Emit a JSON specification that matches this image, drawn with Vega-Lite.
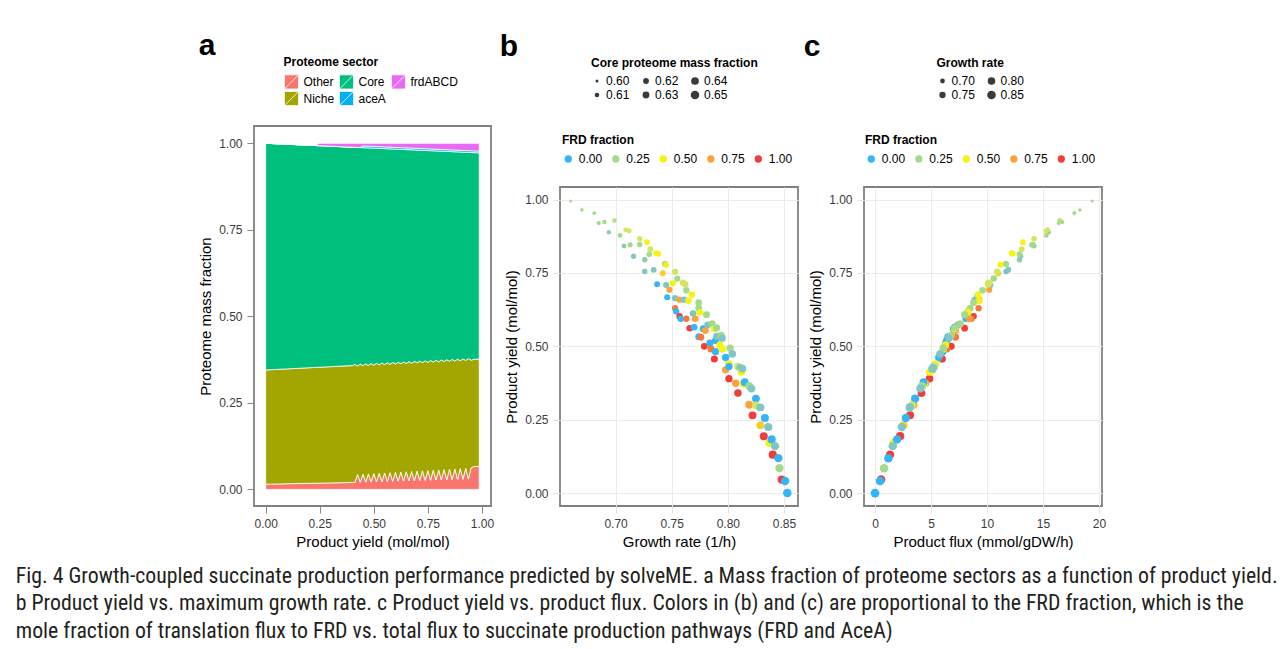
{
  "$schema": "https://vega.github.io/schema/vega-lite/v6.json",
  "padding": {"left": 15, "top": 30, "right": 0, "bottom": 0},
  "background": "white",
  "datasets": {
    "ord": [
      {"sector": "Other", "rank": 1},
      {"sector": "Niche", "rank": 2},
      {"sector": "Core", "rank": 3},
      {"sector": "aceA", "rank": 4},
      {"sector": "frdABCD", "rank": 5}
    ],
    "prot": [
      {"p": 0, "Other": 0.015, "Niche": 0.33, "Core": 0.655, "aceA": 0, "frdABCD": 0},
      {"p": 0.025, "Other": 0.0153, "Niche": 0.3305, "Core": 0.6535, "aceA": 0, "frdABCD": 0},
      {"p": 0.05, "Other": 0.0156, "Niche": 0.331, "Core": 0.652, "aceA": 0, "frdABCD": 0},
      {"p": 0.075, "Other": 0.0159, "Niche": 0.3315, "Core": 0.6505, "aceA": 0, "frdABCD": 0},
      {"p": 0.1, "Other": 0.0163, "Niche": 0.3319, "Core": 0.649, "aceA": 0, "frdABCD": 0},
      {"p": 0.125, "Other": 0.0166, "Niche": 0.3324, "Core": 0.6475, "aceA": 0, "frdABCD": 0},
      {"p": 0.15, "Other": 0.0169, "Niche": 0.3329, "Core": 0.646, "aceA": 0, "frdABCD": 0},
      {"p": 0.175, "Other": 0.0172, "Niche": 0.3334, "Core": 0.6445, "aceA": 0, "frdABCD": 0},
      {"p": 0.2, "Other": 0.0175, "Niche": 0.3339, "Core": 0.643, "aceA": 0, "frdABCD": 0},
      {"p": 0.225, "Other": 0.0178, "Niche": 0.3344, "Core": 0.6415, "aceA": 0, "frdABCD": 0},
      {"p": 0.25, "Other": 0.0181, "Niche": 0.3349, "Core": 0.64, "aceA": 0, "frdABCD": 0.007},
      {"p": 0.275, "Other": 0.0184, "Niche": 0.3354, "Core": 0.6385, "aceA": 0, "frdABCD": 0.0077},
      {"p": 0.3, "Other": 0.0188, "Niche": 0.3358, "Core": 0.637, "aceA": 0, "frdABCD": 0.0084},
      {"p": 0.325, "Other": 0.0191, "Niche": 0.3363, "Core": 0.6355, "aceA": 0, "frdABCD": 0.0091},
      {"p": 0.35, "Other": 0.0194, "Niche": 0.3368, "Core": 0.634, "aceA": 0, "frdABCD": 0.0098},
      {"p": 0.375, "Other": 0.0197, "Niche": 0.3373, "Core": 0.6325, "aceA": 0, "frdABCD": 0.0105},
      {"p": 0.4, "Other": 0.02, "Niche": 0.3378, "Core": 0.631, "aceA": 0, "frdABCD": 0.0112},
      {"p": 0.4125, "Other": 0.0202, "Niche": 0.341, "Core": 0.6273, "aceA": 0, "frdABCD": 0.0116},
      {"p": 0.425, "Other": 0.043, "Niche": 0.3136, "Core": 0.6315, "aceA": 0, "frdABCD": 0.0119},
      {"p": 0.4375, "Other": 0.0207, "Niche": 0.3413, "Core": 0.6258, "aceA": 0, "frdABCD": 0.0123},
      {"p": 0.45, "Other": 0.0439, "Niche": 0.3135, "Core": 0.63, "aceA": 0.005, "frdABCD": 0.0076},
      {"p": 0.4625, "Other": 0.0211, "Niche": 0.3417, "Core": 0.6243, "aceA": 0.005, "frdABCD": 0.008},
      {"p": 0.475, "Other": 0.0448, "Niche": 0.3134, "Core": 0.6285, "aceA": 0.005, "frdABCD": 0.0083},
      {"p": 0.4875, "Other": 0.0216, "Niche": 0.342, "Core": 0.6228, "aceA": 0.005, "frdABCD": 0.0087},
      {"p": 0.5, "Other": 0.0457, "Niche": 0.3133, "Core": 0.627, "aceA": 0.005, "frdABCD": 0.009},
      {"p": 0.5125, "Other": 0.0221, "Niche": 0.3423, "Core": 0.6213, "aceA": 0.005, "frdABCD": 0.0094},
      {"p": 0.525, "Other": 0.0466, "Niche": 0.3132, "Core": 0.6255, "aceA": 0.005, "frdABCD": 0.0097},
      {"p": 0.5375, "Other": 0.0225, "Niche": 0.3427, "Core": 0.6198, "aceA": 0.005, "frdABCD": 0.0101},
      {"p": 0.55, "Other": 0.0475, "Niche": 0.3131, "Core": 0.624, "aceA": 0.005, "frdABCD": 0.0104},
      {"p": 0.5625, "Other": 0.023, "Niche": 0.343, "Core": 0.6183, "aceA": 0.005, "frdABCD": 0.0108},
      {"p": 0.575, "Other": 0.0484, "Niche": 0.313, "Core": 0.6225, "aceA": 0.005, "frdABCD": 0.0111},
      {"p": 0.5875, "Other": 0.0234, "Niche": 0.3434, "Core": 0.6168, "aceA": 0.005, "frdABCD": 0.0115},
      {"p": 0.6, "Other": 0.0493, "Niche": 0.3129, "Core": 0.621, "aceA": 0.005, "frdABCD": 0.0118},
      {"p": 0.6125, "Other": 0.0239, "Niche": 0.3437, "Core": 0.6153, "aceA": 0.005, "frdABCD": 0.0122},
      {"p": 0.625, "Other": 0.0502, "Niche": 0.3128, "Core": 0.6195, "aceA": 0.005, "frdABCD": 0.0125},
      {"p": 0.6375, "Other": 0.0243, "Niche": 0.3441, "Core": 0.6138, "aceA": 0.005, "frdABCD": 0.0129},
      {"p": 0.65, "Other": 0.0511, "Niche": 0.3127, "Core": 0.618, "aceA": 0.005, "frdABCD": 0.0132},
      {"p": 0.6625, "Other": 0.0248, "Niche": 0.3444, "Core": 0.6123, "aceA": 0.005, "frdABCD": 0.0136},
      {"p": 0.675, "Other": 0.052, "Niche": 0.3126, "Core": 0.6165, "aceA": 0.005, "frdABCD": 0.0139},
      {"p": 0.6875, "Other": 0.0253, "Niche": 0.3447, "Core": 0.6108, "aceA": 0.005, "frdABCD": 0.0143},
      {"p": 0.7, "Other": 0.0529, "Niche": 0.3125, "Core": 0.615, "aceA": 0.005, "frdABCD": 0.0146},
      {"p": 0.7125, "Other": 0.0257, "Niche": 0.3451, "Core": 0.6093, "aceA": 0.005, "frdABCD": 0.015},
      {"p": 0.725, "Other": 0.0538, "Niche": 0.3124, "Core": 0.6135, "aceA": 0.005, "frdABCD": 0.0153},
      {"p": 0.7375, "Other": 0.0262, "Niche": 0.3454, "Core": 0.6078, "aceA": 0.005, "frdABCD": 0.0157},
      {"p": 0.75, "Other": 0.0547, "Niche": 0.3123, "Core": 0.612, "aceA": 0.005, "frdABCD": 0.016},
      {"p": 0.7625, "Other": 0.0266, "Niche": 0.3458, "Core": 0.6063, "aceA": 0.005, "frdABCD": 0.0164},
      {"p": 0.775, "Other": 0.0556, "Niche": 0.3122, "Core": 0.6105, "aceA": 0.005, "frdABCD": 0.0167},
      {"p": 0.7875, "Other": 0.0271, "Niche": 0.3461, "Core": 0.6048, "aceA": 0.005, "frdABCD": 0.0171},
      {"p": 0.8, "Other": 0.0565, "Niche": 0.3121, "Core": 0.609, "aceA": 0.005, "frdABCD": 0.0174},
      {"p": 0.8125, "Other": 0.0275, "Niche": 0.3465, "Core": 0.6033, "aceA": 0.005, "frdABCD": 0.0178},
      {"p": 0.825, "Other": 0.0574, "Niche": 0.312, "Core": 0.6075, "aceA": 0.005, "frdABCD": 0.0181},
      {"p": 0.8375, "Other": 0.028, "Niche": 0.3468, "Core": 0.6018, "aceA": 0.005, "frdABCD": 0.0185},
      {"p": 0.85, "Other": 0.0583, "Niche": 0.3119, "Core": 0.606, "aceA": 0.005, "frdABCD": 0.0188},
      {"p": 0.8625, "Other": 0.0285, "Niche": 0.3471, "Core": 0.6003, "aceA": 0.005, "frdABCD": 0.0192},
      {"p": 0.875, "Other": 0.0592, "Niche": 0.3118, "Core": 0.6045, "aceA": 0.005, "frdABCD": 0.0195},
      {"p": 0.8875, "Other": 0.0289, "Niche": 0.3475, "Core": 0.5988, "aceA": 0.005, "frdABCD": 0.0199},
      {"p": 0.9, "Other": 0.0601, "Niche": 0.3117, "Core": 0.603, "aceA": 0.005, "frdABCD": 0.0202},
      {"p": 0.9125, "Other": 0.0294, "Niche": 0.3478, "Core": 0.5973, "aceA": 0.005, "frdABCD": 0.0206},
      {"p": 0.925, "Other": 0.061, "Niche": 0.3116, "Core": 0.6015, "aceA": 0.005, "frdABCD": 0.0209},
      {"p": 0.9375, "Other": 0.0298, "Niche": 0.3482, "Core": 0.5958, "aceA": 0.005, "frdABCD": 0.0213},
      {"p": 0.95, "Other": 0.0619, "Niche": 0.3115, "Core": 0.6, "aceA": 0.005, "frdABCD": 0.0216},
      {"p": 0.9625, "Other": 0.066, "Niche": 0.3098, "Core": 0.5973, "aceA": 0.005, "frdABCD": 0.022},
      {"p": 0.975, "Other": 0.066, "Niche": 0.3102, "Core": 0.5965, "aceA": 0.005, "frdABCD": 0.0223},
      {"p": 0.9875, "Other": 0.066, "Niche": 0.3106, "Core": 0.5958, "aceA": 0.005, "frdABCD": 0.0227}
    ],
    "pts": [
      {"mu": 0.66, "yield": 0.995, "frd": 0.25, "core": 0.6, "flux": 19.4},
      {"mu": 0.67, "yield": 0.965, "frd": 0.25, "core": 0.603, "flux": 18.3},
      {"mu": 0.681, "yield": 0.954, "frd": 0.25, "core": 0.605, "flux": 17.8},
      {"mu": 0.685, "yield": 0.92, "frd": 0.25, "core": 0.607, "flux": 16.4},
      {"mu": 0.69, "yield": 0.924, "frd": 0.25, "core": 0.608, "flux": 16.7},
      {"mu": 0.694, "yield": 0.889, "frd": 0.17, "core": 0.609, "flux": 15.5},
      {"mu": 0.699, "yield": 0.929, "frd": 0.3, "core": 0.61, "flux": 16.5},
      {"mu": 0.704, "yield": 0.878, "frd": 0.25, "core": 0.611, "flux": 15.3},
      {"mu": 0.7075, "yield": 0.842, "frd": 0.17, "core": 0.612, "flux": 14.2},
      {"mu": 0.709, "yield": 0.897, "frd": 0.38, "core": 0.612, "flux": 15.4},
      {"mu": 0.712, "yield": 0.894, "frd": 0.38, "core": 0.613, "flux": 15.3},
      {"mu": 0.713, "yield": 0.846, "frd": 0.25, "core": 0.614, "flux": 14.0},
      {"mu": 0.716, "yield": 0.807, "frd": 0.12, "core": 0.615, "flux": 13.0},
      {"mu": 0.7215, "yield": 0.867, "frd": 0.38, "core": 0.616, "flux": 14.2},
      {"mu": 0.7215, "yield": 0.847, "frd": 0.25, "core": 0.616, "flux": 14.1},
      {"mu": 0.726, "yield": 0.755, "frd": 0.12, "core": 0.617, "flux": 11.7},
      {"mu": 0.728, "yield": 0.855, "frd": 0.5, "core": 0.618, "flux": 13.2},
      {"mu": 0.726, "yield": 0.795, "frd": 0.17, "core": 0.617, "flux": 12.9},
      {"mu": 0.73, "yield": 0.814, "frd": 0.25, "core": 0.618, "flux": 12.9},
      {"mu": 0.731, "yield": 0.831, "frd": 0.38, "core": 0.619, "flux": 13.1},
      {"mu": 0.734, "yield": 0.761, "frd": 0.12, "core": 0.619, "flux": 11.9},
      {"mu": 0.736, "yield": 0.817, "frd": 0.5, "core": 0.62, "flux": 12.2},
      {"mu": 0.737, "yield": 0.712, "frd": 0.0, "core": 0.62, "flux": 10.1},
      {"mu": 0.738, "yield": 0.816, "frd": 0.5, "core": 0.62, "flux": 12.3},
      {"mu": 0.742, "yield": 0.749, "frd": 0.62, "core": 0.621, "flux": 11.0},
      {"mu": 0.744, "yield": 0.781, "frd": 0.25, "core": 0.622, "flux": 11.7},
      {"mu": 0.745, "yield": 0.778, "frd": 0.5, "core": 0.622, "flux": 11.2},
      {"mu": 0.745, "yield": 0.709, "frd": 0.12, "core": 0.622, "flux": 10.3},
      {"mu": 0.746, "yield": 0.667, "frd": 0.0, "core": 0.622, "flux": 9.1},
      {"mu": 0.748, "yield": 0.693, "frd": 0.75, "core": 0.623, "flux": 10.2},
      {"mu": 0.751, "yield": 0.715, "frd": 0.5, "core": 0.623, "flux": 10.1},
      {"mu": 0.753, "yield": 0.754, "frd": 0.38, "core": 0.624, "flux": 10.9},
      {"mu": 0.753, "yield": 0.664, "frd": 0.12, "core": 0.624, "flux": 9.1},
      {"mu": 0.755, "yield": 0.731, "frd": 0.25, "core": 0.624, "flux": 10.6},
      {"mu": 0.757, "yield": 0.659, "frd": 0.75, "core": 0.625, "flux": 9.3},
      {"mu": 0.753, "yield": 0.63, "frd": 0.87, "core": 0.624, "flux": 9.25},
      {"mu": 0.754, "yield": 0.619, "frd": 0.0, "core": 0.624, "flux": 8.3},
      {"mu": 0.757, "yield": 0.603, "frd": 1.0, "core": 0.625, "flux": 8.8},
      {"mu": 0.758, "yield": 0.594, "frd": 0.0, "core": 0.625, "flux": 8.1},
      {"mu": 0.76, "yield": 0.717, "frd": 0.38, "core": 0.625, "flux": 10.2},
      {"mu": 0.762, "yield": 0.712, "frd": 0.38, "core": 0.626, "flux": 10.1},
      {"mu": 0.761, "yield": 0.659, "frd": 0.12, "core": 0.626, "flux": 8.9},
      {"mu": 0.763, "yield": 0.691, "frd": 0.25, "core": 0.626, "flux": 9.6},
      {"mu": 0.763, "yield": 0.594, "frd": 0.87, "core": 0.626, "flux": 8.6},
      {"mu": 0.765, "yield": 0.655, "frd": 0.5, "core": 0.627, "flux": 9.3},
      {"mu": 0.766, "yield": 0.562, "frd": 1.0, "core": 0.627, "flux": 8.0},
      {"mu": 0.768, "yield": 0.676, "frd": 0.5, "core": 0.628, "flux": 9.2},
      {"mu": 0.769, "yield": 0.612, "frd": 0.12, "core": 0.628, "flux": 8.3},
      {"mu": 0.77, "yield": 0.565, "frd": 0.0, "core": 0.628, "flux": 7.1},
      {"mu": 0.771, "yield": 0.594, "frd": 0.75, "core": 0.628, "flux": 8.4},
      {"mu": 0.774, "yield": 0.649, "frd": 0.25, "core": 0.629, "flux": 8.8},
      {"mu": 0.774, "yield": 0.63, "frd": 0.25, "core": 0.629, "flux": 8.5},
      {"mu": 0.774, "yield": 0.533, "frd": 0.0, "core": 0.629, "flux": 6.5},
      {"mu": 0.775, "yield": 0.616, "frd": 0.5, "core": 0.629, "flux": 8.3},
      {"mu": 0.776, "yield": 0.531, "frd": 0.87, "core": 0.63, "flux": 7.2},
      {"mu": 0.778, "yield": 0.56, "frd": 0.0, "core": 0.63, "flux": 7.0},
      {"mu": 0.779, "yield": 0.5, "frd": 1.0, "core": 0.63, "flux": 6.8},
      {"mu": 0.78, "yield": 0.554, "frd": 0.75, "core": 0.631, "flux": 7.2},
      {"mu": 0.781, "yield": 0.608, "frd": 0.25, "core": 0.631, "flux": 8.0},
      {"mu": 0.782, "yield": 0.573, "frd": 0.12, "core": 0.631, "flux": 7.4},
      {"mu": 0.784, "yield": 0.511, "frd": 0.0, "core": 0.632, "flux": 6.3},
      {"mu": 0.785, "yield": 0.491, "frd": 0.87, "core": 0.632, "flux": 6.4},
      {"mu": 0.786, "yield": 0.577, "frd": 0.25, "core": 0.632, "flux": 7.6},
      {"mu": 0.788, "yield": 0.56, "frd": 0.5, "core": 0.633, "flux": 7.1},
      {"mu": 0.79, "yield": 0.563, "frd": 0.25, "core": 0.633, "flux": 7.1},
      {"mu": 0.789, "yield": 0.52, "frd": 0.0, "core": 0.633, "flux": 6.4},
      {"mu": 0.79, "yield": 0.534, "frd": 0.12, "core": 0.633, "flux": 6.6},
      {"mu": 0.788, "yield": 0.457, "frd": 1.0, "core": 0.633, "flux": 6.0},
      {"mu": 0.789, "yield": 0.482, "frd": 0.0, "core": 0.633, "flux": 6.06},
      {"mu": 0.793, "yield": 0.505, "frd": 0.5, "core": 0.634, "flux": 6.3},
      {"mu": 0.794, "yield": 0.537, "frd": 0.25, "core": 0.635, "flux": 6.8},
      {"mu": 0.795, "yield": 0.528, "frd": 0.12, "core": 0.635, "flux": 6.6},
      {"mu": 0.795, "yield": 0.491, "frd": 0.5, "core": 0.635, "flux": 6.1},
      {"mu": 0.798, "yield": 0.462, "frd": 0.0, "core": 0.635, "flux": 5.7},
      {"mu": 0.798, "yield": 0.42, "frd": 0.75, "core": 0.635, "flux": 5.13},
      {"mu": 0.801, "yield": 0.44, "frd": 0.5, "core": 0.636, "flux": 5.4},
      {"mu": 0.802, "yield": 0.494, "frd": 0.25, "core": 0.637, "flux": 6.1},
      {"mu": 0.804, "yield": 0.474, "frd": 0.12, "core": 0.637, "flux": 5.8},
      {"mu": 0.801, "yield": 0.39, "frd": 1.0, "core": 0.636, "flux": 4.87},
      {"mu": 0.801, "yield": 0.431, "frd": 0.0, "core": 0.636, "flux": 5.25},
      {"mu": 0.809, "yield": 0.431, "frd": 0.38, "core": 0.638, "flux": 5.3},
      {"mu": 0.811, "yield": 0.427, "frd": 0.12, "core": 0.639, "flux": 5.2},
      {"mu": 0.807, "yield": 0.374, "frd": 0.75, "core": 0.638, "flux": 4.5},
      {"mu": 0.809, "yield": 0.341, "frd": 1.0, "core": 0.638, "flux": 4.15},
      {"mu": 0.812, "yield": 0.413, "frd": 0.5, "core": 0.639, "flux": 4.9},
      {"mu": 0.813, "yield": 0.424, "frd": 0.12, "core": 0.639, "flux": 5.1},
      {"mu": 0.814, "yield": 0.373, "frd": 0.5, "core": 0.64, "flux": 4.4},
      {"mu": 0.815, "yield": 0.378, "frd": 0.0, "core": 0.64, "flux": 4.33},
      {"mu": 0.819, "yield": 0.365, "frd": 0.25, "core": 0.641, "flux": 4.2},
      {"mu": 0.821, "yield": 0.356, "frd": 0.12, "core": 0.641, "flux": 4.05},
      {"mu": 0.819, "yield": 0.301, "frd": 0.75, "core": 0.641, "flux": 3.43},
      {"mu": 0.822, "yield": 0.265, "frd": 1.0, "core": 0.642, "flux": 3.13},
      {"mu": 0.825, "yield": 0.322, "frd": 0.0, "core": 0.642, "flux": 3.58},
      {"mu": 0.825, "yield": 0.299, "frd": 0.38, "core": 0.642, "flux": 3.3},
      {"mu": 0.829, "yield": 0.292, "frd": 0.12, "core": 0.643, "flux": 3.1},
      {"mu": 0.829, "yield": 0.231, "frd": 0.62, "core": 0.643, "flux": 2.54},
      {"mu": 0.832, "yield": 0.194, "frd": 1.0, "core": 0.644, "flux": 2.24},
      {"mu": 0.833, "yield": 0.256, "frd": 0.0, "core": 0.644, "flux": 2.75},
      {"mu": 0.836, "yield": 0.225, "frd": 0.12, "core": 0.645, "flux": 2.39},
      {"mu": 0.837, "yield": 0.171, "frd": 0.5, "core": 0.645, "flux": 1.64},
      {"mu": 0.839, "yield": 0.183, "frd": 0.0, "core": 0.646, "flux": 1.97},
      {"mu": 0.842, "yield": 0.16, "frd": 0.12, "core": 0.647, "flux": 1.58},
      {"mu": 0.84, "yield": 0.131, "frd": 1.0, "core": 0.646, "flux": 1.34},
      {"mu": 0.845, "yield": 0.119, "frd": 0.0, "core": 0.648, "flux": 1.19},
      {"mu": 0.846, "yield": 0.085, "frd": 0.25, "core": 0.648, "flux": 0.81},
      {"mu": 0.848, "yield": 0.046, "frd": 1.0, "core": 0.649, "flux": 0.54},
      {"mu": 0.851, "yield": 0.041, "frd": 0.0, "core": 0.649, "flux": 0.45},
      {"mu": 0.853, "yield": 0.0, "frd": 0.0, "core": 0.65, "flux": 0.0}
    ]
  },
  "title": {
    "text": [
      "Fig. 4 Growth-coupled succinate production performance predicted by solveME. a Mass fraction of proteome sectors as a function of product yield.",
      "b Product yield vs. maximum growth rate. c Product yield vs. product flux. Colors in (b) and (c) are proportional to the FRD fraction, which is the",
      "mole fraction of translation flux to FRD vs. total flux to succinate production pathways (FRD and AceA)"
    ],
    "orient": "bottom",
    "anchor": "start",
    "frame": "bounds",
    "dx": -182,
    "offset": 16,
    "font": "Liberation Sans Narrow, Roboto Condensed, DejaVu Sans Condensed, Liberation Sans",
    "fontSize": 21.8,
    "fontWeight": "normal",
    "lineHeight": 27.5,
    "color": "#231f20"
  },
  "spacing": 3,
  "resolve": {
    "scale": {"x": "independent", "y": "independent", "color": "independent", "size": "independent"},
    "legend": {"color": "independent", "size": "independent"}
  },
  "hconcat": [
    {
      "title": {"text": "a", "anchor": "start", "frame": "bounds", "fontSize": 30, "fontWeight": "bold", "font": "Liberation Sans", "color": "#000", "offset": -4},
      "width": 237,
      "height": 380,
      "data": {"name": "prot"},
      "transform": [
        {"fold": ["Other", "Niche", "Core", "aceA", "frdABCD"], "as": ["sector", "frac"]},
        {"lookup": "sector", "from": {"data": {"name": "ord"}, "key": "sector", "fields": ["rank"]}}
      ],
      "mark": {"type": "area", "stroke": "white", "strokeWidth": 0.8},
      "encoding": {
        "x": {
          "field": "p", "type": "quantitative",
          "scale": {"domain": [-0.054, 1.042], "nice": false, "zero": false},
          "axis": {"values": [0, 0.25, 0.5, 0.75, 1], "format": ".2f", "title": "Product yield (mol/mol)"}
        },
        "y": {
          "field": "frac", "type": "quantitative", "stack": "zero",
          "scale": {"domain": [-0.048, 1.05], "nice": false, "zero": false},
          "axis": {"values": [0, 0.25, 0.5, 0.75, 1], "format": ".2f", "title": "Proteome mass fraction"}
        },
        "color": {
          "field": "sector", "type": "nominal",
          "scale": {"domain": ["Other", "Niche", "Core", "aceA", "frdABCD"], "range": ["#F8766D", "#A3A500", "#00BF7D", "#00B0F6", "#E76BF3"]},
          "legend": {
            "title": "Proteome sector",
            "values": ["Other", "Core", "frdABCD", "Niche", "aceA"],
            "orient": "none", "legendX": 29.5, "legendY": -69,
            "direction": "horizontal", "columns": 3,
            "symbolType": "M-1,-1H1V1H-1Z M-1,1L1,-1",
            "symbolSize": 200, "symbolOffset": 0.5, "symbolStrokeColor": "white", "symbolStrokeWidth": 0.8,
            "labelOffset": 4.5, "columnPadding": 3, "rowPadding": -7, "titlePadding": 5
          }
        },
        "order": {"field": "rank", "type": "quantitative"}
      }
    },
    {
      "bounds": "flush",
      "spacing": 0,
      "resolve": {
        "scale": {"x": "independent", "y": "independent", "color": "independent", "size": "independent"},
        "legend": {"color": "independent", "size": "independent"}
      },
      "vconcat": [
        {
          "width": 238,
          "height": 60.3,
          "data": {"values": [{"t": ""}]},
          "mark": {"type": "text"},
          "encoding": {"text": {"field": "t", "type": "nominal"}},
          "view": {"stroke": null}
        },
        {
          "title": {"text": "b", "anchor": "start", "frame": "bounds", "fontSize": 30, "fontWeight": "bold", "font": "Liberation Sans", "color": "#000", "offset": -4, "dx": -5},
          "width": 238,
          "height": 319,
          "data": {"name": "pts"},
          "mark": {"type": "circle", "opacity": 1},
          "encoding": {
            "x": {
              "field": "mu", "type": "quantitative",
              "scale": {"domain": [0.6505, 0.8625], "nice": false, "zero": false},
              "axis": {"values": [0.7, 0.75, 0.8, 0.85], "format": ".2f", "title": "Growth rate (1/h)", "grid": true, "gridColor": "#EBEBEB", "tickColor": "#E3E3E3"}
            },
            "y": {
              "field": "yield", "type": "quantitative",
              "scale": {"domain": [-0.044, 1.043], "nice": false, "zero": false},
              "axis": {"values": [0, 0.25, 0.5, 0.75, 1], "format": ".2f", "title": "Product yield (mol/mol)", "grid": true, "gridColor": "#EBEBEB", "tickColor": "#E3E3E3"}
            },
            "color": {
              "field": "frd", "type": "quantitative",
              "scale": {"domain": [0, 0.25, 0.5, 0.75, 1], "range": ["#33B5F6", "#A5D98C", "#F6F215", "#FBA338", "#F23C3C"], "interpolate": "lab"},
              "legend": {
                "type": "symbol", "title": "FRD fraction", "values": [0, 0.25, 0.5, 0.75, 1], "format": ".2f",
                "orient": "none", "legendX": 2, "legendY": -52,
                "direction": "horizontal", "columns": 5,
                "symbolType": "circle", "symbolSize": 53, "symbolStrokeWidth": 0, "symbolOffset": 0.3,
                "labelOffset": 4.5, "columnPadding": 6.5, "titlePadding": 6
              }
            },
            "size": {
              "field": "core", "type": "quantitative",
              "scale": {"domain": [0.6, 0.65], "range": [9, 72], "zero": false},
              "legend": {
                "title": "Core proteome mass fraction", "values": [0.6, 0.62, 0.64, 0.61, 0.63, 0.65], "format": ".2f",
                "orient": "none", "legendX": 31, "legendY": -129,
                "direction": "horizontal", "columns": 3,
                "symbolType": "circle", "symbolFillColor": "#3a3a3a", "symbolStrokeColor": "#3a3a3a", "symbolStrokeWidth": 0, "symbolOffset": 0,
                "labelOffset": 3, "columnPadding": 10, "rowPadding": 2, "titlePadding": 5
              }
            }
          }
        }
      ]
    },
    {
      "bounds": "flush",
      "spacing": 0,
      "resolve": {
        "scale": {"x": "independent", "y": "independent", "color": "independent", "size": "independent"},
        "legend": {"color": "independent", "size": "independent"}
      },
      "vconcat": [
        {
          "width": 238,
          "height": 60.3,
          "data": {"values": [{"t": ""}]},
          "mark": {"type": "text"},
          "encoding": {"text": {"field": "t", "type": "nominal"}},
          "view": {"stroke": null}
        },
        {
          "title": {"text": "c", "anchor": "start", "frame": "bounds", "fontSize": 30, "fontWeight": "bold", "font": "Liberation Sans", "color": "#000", "offset": -4, "dx": -5},
          "width": 238,
          "height": 319,
          "data": {"name": "pts"},
          "mark": {"type": "circle", "opacity": 1},
          "encoding": {
            "x": {
              "field": "flux", "type": "quantitative",
              "scale": {"domain": [-0.985, 20.27], "nice": false, "zero": false},
              "axis": {"values": [0, 5, 10, 15, 20], "format": "d", "title": "Product flux (mmol/gDW/h)", "grid": true, "gridColor": "#EBEBEB", "tickColor": "#E3E3E3"}
            },
            "y": {
              "field": "yield", "type": "quantitative",
              "scale": {"domain": [-0.044, 1.043], "nice": false, "zero": false},
              "axis": {"values": [0, 0.25, 0.5, 0.75, 1], "format": ".2f", "title": "Product yield (mol/mol)", "grid": true, "gridColor": "#EBEBEB", "tickColor": "#E3E3E3"}
            },
            "color": {
              "field": "frd", "type": "quantitative",
              "scale": {"domain": [0, 0.25, 0.5, 0.75, 1], "range": ["#33B5F6", "#A5D98C", "#F6F215", "#FBA338", "#F23C3C"], "interpolate": "lab"},
              "legend": {
                "type": "symbol", "title": "FRD fraction", "values": [0, 0.25, 0.5, 0.75, 1], "format": ".2f",
                "orient": "none", "legendX": 1, "legendY": -52,
                "direction": "horizontal", "columns": 5,
                "symbolType": "circle", "symbolSize": 53, "symbolStrokeWidth": 0, "symbolOffset": 0.3,
                "labelOffset": 4.5, "columnPadding": 6.5, "titlePadding": 6
              }
            },
            "size": {
              "field": "mu", "type": "quantitative",
              "scale": {"domain": [0.66, 0.853], "range": [9, 75], "zero": false},
              "legend": {
                "title": "Growth rate", "values": [0.7, 0.8, 0.75, 0.85], "format": ".2f",
                "orient": "none", "legendX": 72.5, "legendY": -129,
                "direction": "horizontal", "columns": 2,
                "symbolType": "circle", "symbolFillColor": "#3a3a3a", "symbolStrokeColor": "#3a3a3a", "symbolStrokeWidth": 0, "symbolOffset": 0,
                "labelOffset": 3, "columnPadding": 10, "rowPadding": 2, "titlePadding": 5
              }
            }
          }
        }
      ]
    }
  ],
  "config": {
    "font": "Liberation Sans",
    "view": {"stroke": "#808080", "strokeWidth": 1.8},
    "axis": {
      "labelFont": "Liberation Sans", "labelFontSize": 12, "labelColor": "#3b3b3b",
      "titleFont": "Liberation Sans", "titleFontSize": 15, "titleFontWeight": "normal", "titleColor": "#000",
      "domain": false, "tickSize": 7, "tickColor": "#8a8a8a", "tickWidth": 1,
      "labelPadding": 5, "titlePadding": 5, "grid": false
    },
    "legend": {
      "padding": 0, "offset": 0,
      "titleFont": "Liberation Sans", "titleFontSize": 12, "titleFontWeight": "bold", "titleColor": "#000",
      "labelFont": "Liberation Sans", "labelFontSize": 12, "labelColor": "#000"
    }
  }
}
